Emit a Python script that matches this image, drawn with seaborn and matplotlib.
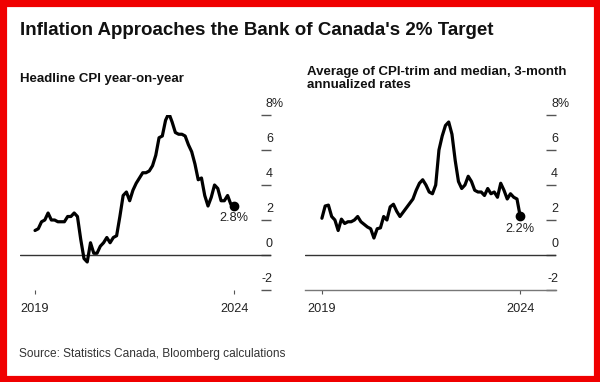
import numpy as np
import pandas as pd
import matplotlib
matplotlib.use('Agg')
import matplotlib.pyplot as plt
import matplotlib.transforms as mtransforms
from matplotlib.patches import Rectangle
import seaborn as sns

# monthly, Jan 2019 .. Feb 2024
headline_cpi = [
    1.4, 1.5, 1.9, 2.0, 2.4, 2.0, 2.0, 1.9, 1.9, 1.9, 2.2, 2.2,
    2.4, 2.2, 0.9, -0.2, -0.4, 0.7, 0.1, 0.1, 0.5, 0.7, 1.0, 0.7,
    1.0, 1.1, 2.2, 3.4, 3.6, 3.1, 3.7, 4.1, 4.4, 4.7, 4.7, 4.8,
    5.1, 5.7, 6.7, 6.8, 7.7, 8.1, 7.6, 7.0, 6.9, 6.9, 6.8, 6.3,
    5.9, 5.2, 4.3, 4.4, 3.4, 2.8, 3.3, 4.0, 3.8, 3.1, 3.1, 3.4,
    2.9, 2.8,
]
core_avg = [
    2.1, 2.8, 2.85, 2.2, 2.0, 1.4, 2.05, 1.8, 1.9, 1.9, 2.0, 2.2,
    1.9, 1.75, 1.6, 1.5, 0.97, 1.5, 1.55, 2.2, 2.0, 2.75, 2.9, 2.5,
    2.2, 2.45, 2.7, 2.95, 3.2, 3.7, 4.1, 4.3, 4.0, 3.6, 3.5, 4.0,
    6.0, 6.8, 7.4, 7.6, 6.9, 5.4, 4.2, 3.8, 4.0, 4.5, 4.2, 3.7,
    3.6, 3.6, 3.4, 3.8, 3.5, 3.6, 3.3, 4.1, 3.7, 3.2, 3.5, 3.3,
    3.2, 2.2,
]
month_idx = list(range(len(headline_cpi)))
year_ticks = [0, len(headline_cpi) - 1]
year_labels = ['2019', '2024']
y_ticks = [-2, 0, 2, 4, 6, 8]

title = "Inflation Approaches the Bank of Canada's 2% Target"
subtitles = ["Headline CPI year-on-year",
             "Average of CPI-trim and median, 3-month\nannualized rates"]
source = "Source: Statistics Canada, Bloomberg calculations"

sns.set_style('white')
plt.rcParams['font.family'] = ['Liberation Sans', 'DejaVu Sans']

W, H = 600, 382
fig = plt.figure(figsize=(6, 3.82), dpi=100)
fig.patch.set_facecolor('white')


def px_axes(x0, x1, y_top, y_bot):
    return fig.add_axes([x0 / W, 1 - y_bot / H, (x1 - x0) / W, (y_bot - y_top) / H])


def draw_panel(ax, values, xlim, bottom_line):
    df = pd.DataFrame({'month': month_idx, 'value': values})
    ax.axhline(0, color='#333333', lw=1.0, zorder=1)
    sns.lineplot(data=df, x='month', y='value', ax=ax, color='black',
                 linewidth=2.3, zorder=3)
    ax.plot(month_idx[-1], values[-1], 'o', color='black', ms=6, zorder=4)
    ax.text(month_idx[-1], values[-1] - 0.7, f"{values[-1]:.1f}%",
            ha='center', va='center', fontsize=9.2, color='#222222')

    ax.set_xlim(*xlim)
    ax.set_ylim(-2, 8)
    ax.set_xlabel('')
    ax.set_ylabel('')
    for s in ['top', 'left', 'right']:
        ax.spines[s].set_visible(False)
    if bottom_line:
        ax.spines['bottom'].set_color('#777777')
        ax.spines['bottom'].set_linewidth(1.0)
    else:
        ax.spines['bottom'].set_visible(False)

    ax.set_xticks(year_ticks)
    ax.set_xticklabels(year_labels)
    ax.tick_params(axis='x', direction='out', length=3, width=0.8,
                   color='#555555', labelsize=9.2, labelcolor='#222222', pad=6,
                   bottom=True)

    ax.yaxis.tick_right()
    ax.set_yticks(y_ticks)
    ax.tick_params(axis='y', direction='in', length=7, width=1.0,
                   color='#555555', right=True, labelright=False)
    trans = mtransforms.blended_transform_factory(ax.transAxes, ax.transData)
    for v in y_ticks:
        if v == y_ticks[-1]:
            # top label carries the unit, digit stays aligned with the others
            ax.text(1.0 - 5 / 251, v + 0.62, f"{v}%", transform=trans,
                    ha='left', va='center', fontsize=9, color='#222222',
                    clip_on=False)
        else:
            ax.text(1.0 + 2 / 251, v + 0.62, str(v), transform=trans,
                    ha='right', va='center', fontsize=9, color='#222222',
                    clip_on=False)


ax1 = px_axes(20, 271, 115, 290)
draw_panel(ax1, headline_cpi, (-4.6, 72.3), bottom_line=False)

ax2 = px_axes(305, 556, 115, 290)
draw_panel(ax2, core_avg, (-5.2, 72.0), bottom_line=True)

fig.text(20 / W, 1 - 35 / H, title, fontsize=13.5, fontweight='bold',
         ha='left', va='baseline', color='#111111')
fig.text(20 / W, 1 - 82 / H, subtitles[0], fontsize=9.5, fontweight='bold',
         ha='left', va='baseline', color='#111111')
fig.text(307 / W, 1 - 66 / H, subtitles[1], fontsize=9.5, fontweight='bold',
         ha='left', va='top', color='#111111', linespacing=1.15)
fig.text(19 / W, 1 - 357 / H, source, fontsize=8.6,
         ha='left', va='baseline', color='#333333')

fig.patches.append(Rectangle((0, 0), 1, 1, transform=fig.transFigure,
                             fill=False, edgecolor='#f00000', lw=9.5,
                             zorder=10))

fig.savefig('out.png', dpi=100, facecolor='white')
